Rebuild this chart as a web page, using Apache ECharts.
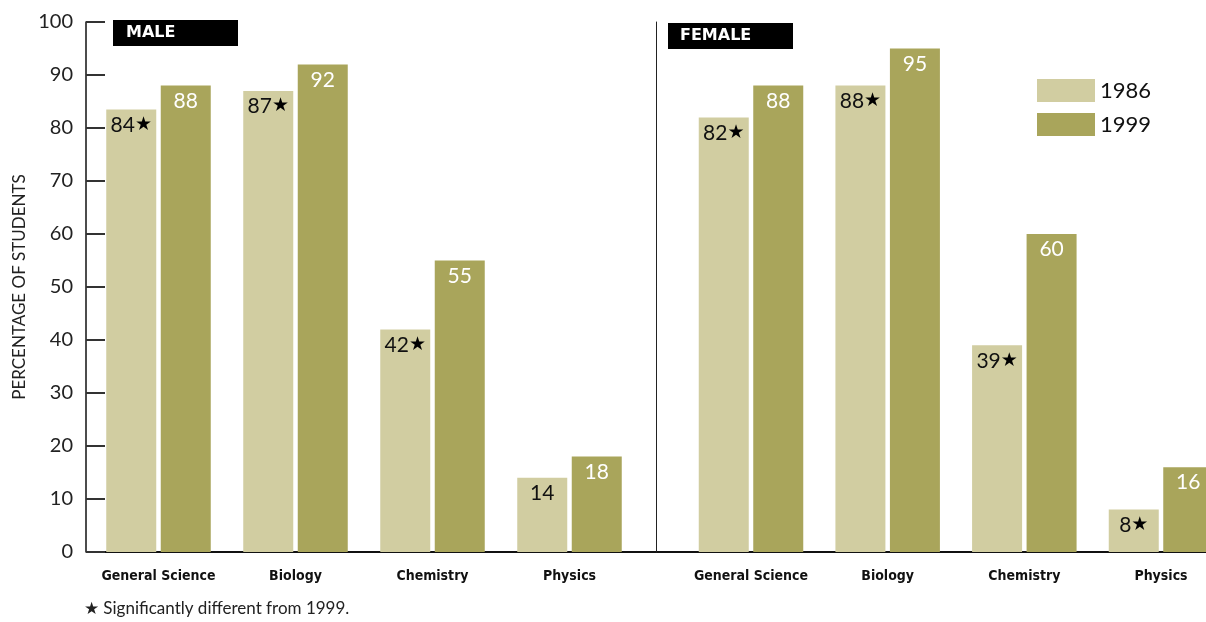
<!DOCTYPE html>
<html><head><meta charset="utf-8">
<script src="https://cdn.jsdelivr.net/npm/echarts@6/dist/echarts.min.js"></script>
<style>html,body{margin:0;padding:0;background:#fff}#c{width:1206px;height:622px}</style>
</head><body><div id="c"></div>
<script>
const categories = ['General Science', 'Biology', 'Chemistry', 'Physics'];
const yTicks = [0, 10, 20, 30, 40, 50, 60, 70, 80, 90, 100];
const male1986 = [83.5, 87, 42, 14];
const male1999 = [88, 92, 55, 18];
const female1986 = [82, 88, 39, 8];
const female1999 = [88, 95, 60, 16];
const male1986Sig = [true, true, true, false];
const female1986Sig = [true, true, true, true];
const panelNames = ['MALE', 'FEMALE'];
const seriesNames = ['1986', '1999'];
const footnote = '\u2605 Significantly different from 1999.';
const yName = 'PERCENTAGE OF STUDENTS';

const C86 = '#d1cda1', C99 = '#a9a55b';
const numFont = 'Lato';

function lab86(sig) {
  return {
    show: true, position: 'insideTop', distance: 5,
    formatter: p => '{v|' + Math.round(p.value) + '}' + (sig[p.dataIndex] ? '{s|\u2605}' : ''),
    rich: {
      v: { fontFamily: numFont, fontSize: 21, color: '#111' },
      s: { fontFamily: 'DejaVu Sans', fontSize: 19, color: '#000' }
    }
  };
}
const lab99 = { show: true, position: 'insideTop', distance: 5, fontFamily: numFont, fontSize: 21, color: '#fff',
  formatter: p => String(Math.round(p.value)) };

const xAx = (gi, bg) => ({
  type: 'category', gridIndex: gi, data: categories, boundaryGap: bg,
  axisLine: { show: false }, axisTick: { show: false },
  axisLabel: { interval: 0, margin: 17, fontFamily: 'DejaVu Sans Condensed', fontWeight: 'bold', fontSize: 14, color: '#111' }
});

const chart = echarts.init(document.getElementById('c'));
chart.setOption({
  animation: false,
  grid: [
    { left: 90, top: 22, width: 548, height: 530 },
    { left: 751, top: 22, width: 410, height: 530 }
  ],
  xAxis: [xAx(0, true), xAx(1, false)],
  yAxis: [
    { type: 'value', gridIndex: 0, min: yTicks[0], max: yTicks[yTicks.length - 1], interval: 10, offset: 4,
      name: yName, nameLocation: 'middle', nameGap: 58, nameRotate: 90,
      nameTextStyle: { fontFamily: numFont, fontSize: 17, color: '#222' },
      axisLine: { show: true, lineStyle: { color: '#111', width: 1.5 } },
      axisTick: { show: true, inside: true, length: 19, lineStyle: { color: '#333', width: 2 } },
      axisLabel: { margin: 13, fontFamily: numFont, fontSize: 20, color: '#222' },
      splitLine: { show: false } },
    { type: 'value', gridIndex: 1, min: 0, max: 100, interval: 10, offset: 95,
      axisLine: { show: true, lineStyle: { color: '#222', width: 1 } },
      axisTick: { show: false }, axisLabel: { show: false }, splitLine: { show: false } }
  ],
  legend: {
    orient: 'vertical', left: 1037, top: 79, padding: 0, itemWidth: 58, itemHeight: 23, itemGap: 11,
    icon: 'rect', data: seriesNames,
    textStyle: { fontFamily: numFont, fontSize: 22, color: '#111' }
  },
  series: [
    { name: seriesNames[0], type: 'bar', xAxisIndex: 0, yAxisIndex: 0, data: male1986, barWidth: 50, barGap: '9%',
      itemStyle: { color: C86 }, label: lab86(male1986Sig) },
    { name: seriesNames[1], type: 'bar', xAxisIndex: 0, yAxisIndex: 0, data: male1999, barWidth: 50, barGap: '9%',
      itemStyle: { color: C99 }, label: lab99 },
    { name: seriesNames[0], type: 'bar', xAxisIndex: 1, yAxisIndex: 1, data: female1986, barWidth: 50, barGap: '9%',
      itemStyle: { color: C86 }, label: lab86(female1986Sig) },
    { name: seriesNames[1], type: 'bar', xAxisIndex: 1, yAxisIndex: 1, data: female1999, barWidth: 50, barGap: '9%',
      itemStyle: { color: C99 }, label: lab99 }
  ],
  graphic: [
    { type: 'line', shape: { x1: 86, y1: 552, x2: 1206, y2: 552 }, style: { stroke: '#111', lineWidth: 2 }, z: 0 },
    { type: 'rect', shape: { x: 113, y: 20, width: 125, height: 26 }, style: { fill: '#000' } },
    { type: 'text', left: 126, top: 25, style: { text: panelNames[0], fill: '#fff', font: 'bold 16px "DejaVu Sans"' } },
    { type: 'rect', shape: { x: 668, y: 23, width: 125, height: 26 }, style: { fill: '#000' } },
    { type: 'text', left: 680, top: 28, style: { text: panelNames[1], fill: '#fff', font: 'bold 16px "DejaVu Sans"' } },
    { type: 'text', left: 84, top: 600, style: { text: footnote, fill: '#222', font: '17px Lato' } }
  ]
});
</script></body></html>
